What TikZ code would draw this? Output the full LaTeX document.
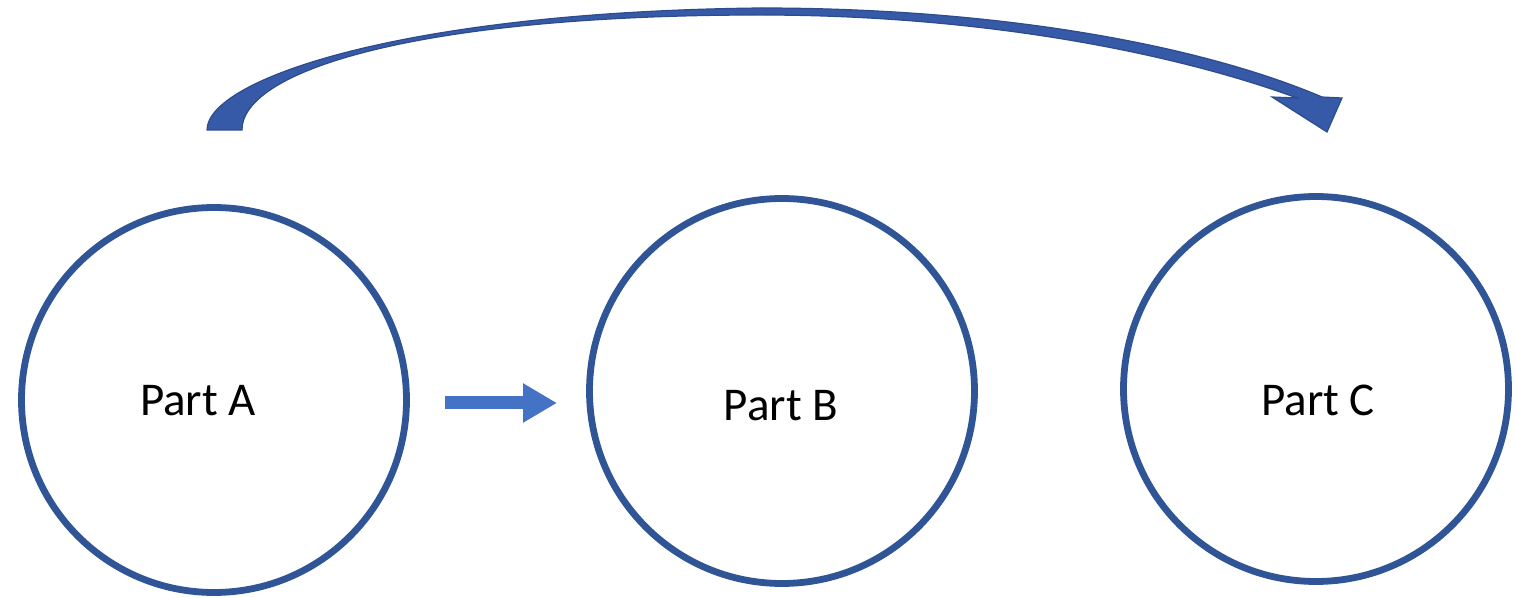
\documentclass[tikz,border=0pt]{standalone}
\usepackage{fontspec}
\setmainfont{Carlito}
\usetikzlibrary{arrows.meta}
\definecolor{ringblue}{RGB}{47,85,151}
\definecolor{arcblue}{RGB}{54,89,168}
\definecolor{arcedge}{RGB}{44,76,140}
\definecolor{lightblue}{RGB}{68,114,196}
\tikzset{
  part/.style={circle, draw=ringblue, line width=3.4pt, minimum size=192.5pt, inner sep=0pt},
  partlabel/.style={font=\fontsize{23.5pt}{28pt}\selectfont, text=black, inner sep=0pt},
  straightarrow/.style={draw=lightblue, line width=6.5pt, -{Triangle[length=17pt,width=18.5pt]}},
  bigarc/.style={fill=arcblue, draw=arcedge, line width=0.6pt, line join=miter}
}
\begin{document}
\begin{tikzpicture}[x=0.5pt, y=-0.5pt]
\useasboundingbox (0,0) rectangle (1516,598);
\node[part] (A) at (214,400) {};
\node[part] (B) at (782,391) {};
\node[part] (C) at (1316,389) {};
\node[partlabel] (tA) at (198,401) {Part A};
\node[partlabel] (tB) at (781,406) {Part B};
\node[partlabel] (tC) at (1318,400) {Part C};
\coordinate (s1) at (445,403);
\coordinate (e1) at (557,403);
\draw[straightarrow] (s1) -- (e1);
\path[bigarc]
  (207,130) .. controls (207,80) and (400,12) .. (760,8)
  .. controls (1000,8) and (1200,45) .. (1322,97)
  -- (1342,98) -- (1327,132) -- (1272,97) -- (1297,98)
  .. controls (1180,55) and (990,15) .. (760,15)
  .. controls (420,15) and (242,70) .. (242,130)
  -- cycle;
\end{tikzpicture}
\end{document}
